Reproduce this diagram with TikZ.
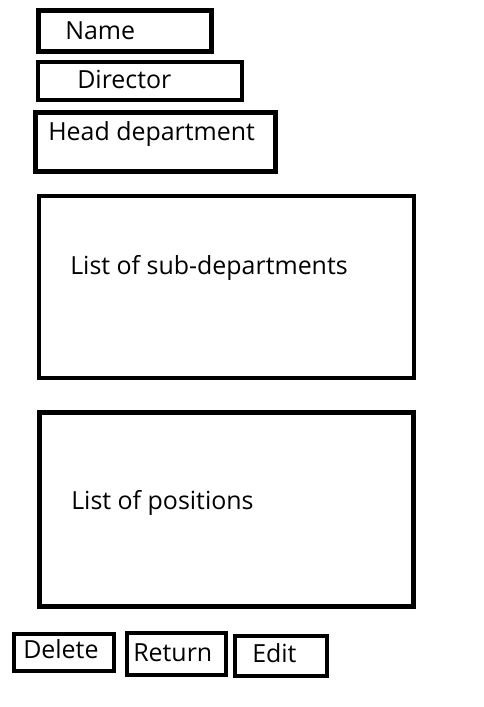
\documentclass[tikz,border=0pt]{standalone}
\usepackage{fontspec}
\setmainfont{Open Sans}
\usetikzlibrary{positioning}

\tikzset{
	field/.style={draw, line width=3.4pt, inner sep=0pt},
	wh/.style 2 args={minimum width=#1*0.75pt, minimum height=#2*0.75pt},
	caption/.style={anchor=base west, inner sep=0pt, font=\fontsize{18.7}{21}\selectfont}
}

\begin{document}
\begin{tikzpicture}[x=0.75pt,y=-0.75pt]
	\useasboundingbox (0,0) rectangle (483,707);
	% boxes
	\node[field, wh={173}{41}] (name) at (125,31) {};
	\node[field, wh={204}{38}] (director) at (140,81) {};
	\node[field, wh={240}{59}] (head) at (155.5,142) {};
	\node[field, wh={375}{182}] (subs) at (226.5,287) {};
	\node[field, wh={374}{194}] (positions) at (226.5,509.5) {};
	\node[field, wh={100}{37}] (delete) at (64,652.5) {};
	\node[field, wh={99}{42}] (return) at (176.5,654) {};
	\node[field, wh={92}{40}] (edit) at (281,656) {};
	% texts
	\node[caption] (nameT) at (65,39) {Name};
	\node[caption] (directorT) at (77,88) {Director};
	\node[caption] (headT) at (48,140) {Head department};
	\node[caption] (subsT) at (70,274) {List of sub-departments};
	\node[caption] (positionsT) at (71,509) {List of positions};
	\node[caption] (deleteT) at (23,658) {Delete};
	\node[caption] (returnT) at (133,661) {Return};
	\node[caption] (editT) at (252,662) {Edit};
\end{tikzpicture}
\end{document}
